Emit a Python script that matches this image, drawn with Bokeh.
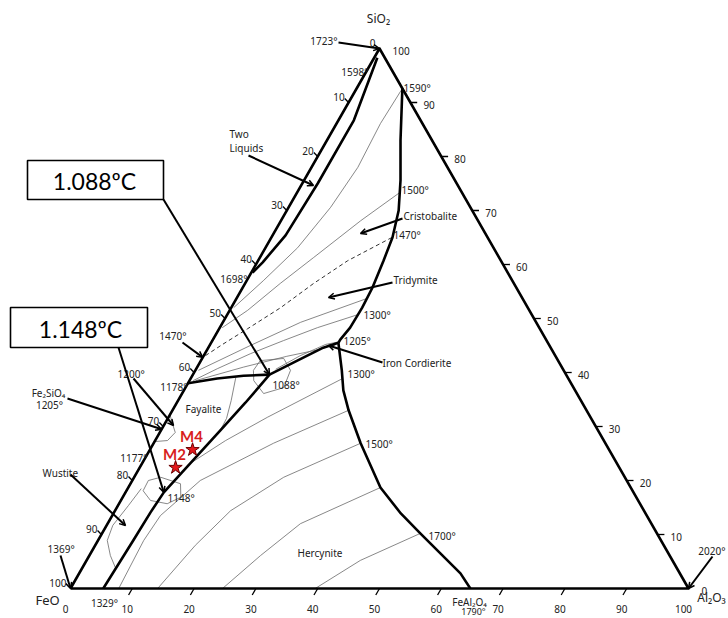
from bokeh.plotting import figure
from bokeh.models import Range1d, Arrow, OpenHead
from bokeh.core.properties import value
from bokeh.embed import file_html
from bokeh.resources import INLINE

# ---------------- data: compositions in wt% (SiO2, Al2O3), FeO = rest ----------------
triangle_sio2 = [0, 100, 0, 0]
triangle_al2o3 = [0, 0, 100, 0]

two_liquid_sio2 = [98.3, 86.7, 75.0, 65.4, 60.4, 58.5]
two_liquid_al2o3 = [0.5, 2.5, 2.5, 2.1, 0.9, 0.2]

silica_mullite_sio2 = [92.6, 83.0, 75.6, 70.0, 65.0, 60.7, 55.7, 52.0, 48.3, 46.1, 45.5]
silica_mullite_al2o3 = [7.4, 11.9, 15.6, 18.1, 19.6, 20.3, 21.0, 21.2, 21.1, 20.6, 20.6]

hercynite_mullite_sio2 = [45.5, 40.4, 36.7, 33.0, 26.9, 18.7, 13.9, 10.2, 6.5, 2.8, 0.0]
hercynite_mullite_al2o3 = [20.6, 23.7, 25.8, 28.5, 33.5, 40.8, 46.5, 51.5, 56.6, 61.7, 64.7]

cordierite_sio2 = [39.6, 42.2, 44.6, 45.5]
cordierite_al2o3 = [12.4, 15.6, 18.6, 20.6]
cordierite_inner_sio2 = [40.6, 43.1, 45.2, 45.6]
cordierite_inner_al2o3 = [12.9, 15.6, 18.7, 20.3]

fayalite_tridymite_sio2 = [38.0, 38.9, 39.4, 39.6]
fayalite_tridymite_al2o3 = [0.0, 4.3, 8.3, 12.4]

hercynite_fayalite_sio2 = [0.0, 8.9, 14.1, 17.8, 22.2, 29.3, 34.4, 39.6]
hercynite_fayalite_al2o3 = [5.3, 5.7, 5.9, 6.2, 7.5, 9.6, 11.1, 12.4]

# isotherms (thin lines)
iso_1590_sio2 = [92.6, 86.1, 78.0, 70.6, 63.1, 57.0, 52.0]
iso_1590_al2o3 = [7.4, 7.1, 7.5, 6.8, 5.2, 2.7, 0.4]
iso_1500_sio2 = [73.3, 68.1, 61.3, 56.5, 51.5, 48.3]
iso_1500_al2o3 = [16.6, 12.9, 8.7, 5.7, 2.9, 0.4]
iso_1470_sio2 = [65.0, 60.7, 56.5, 52.0, 48.1, 45.2, 42.8]
iso_1470_al2o3 = [19.5, 14.5, 11.1, 8.0, 4.6, 2.0, 0.0]
iso_1400_sio2 = [53.7, 49.3, 45.0, 40.4]
iso_1400_al2o3 = [21.1, 12.6, 6.6, 0.5]
iso_1300_sio2 = [50.7, 48.3, 45.9, 43.5, 40.7, 38.5]
iso_1300_al2o3 = [21.1, 15.8, 11.5, 7.4, 3.4, 0.6]
iso_1200_sio2 = [38.5, 41.0, 43.0, 44.2]
iso_1200_al2o3 = [1.0, 7.5, 13.5, 17.9]

herc_a_sio2 = [38.9, 31.7, 27.4, 23.3]
herc_a_al2o3 = [24.6, 16.0, 11.4, 7.9]
herc_b_sio2 = [33.0, 26.9, 20.0, 13.5, 8.9, 0.0]
herc_b_al2o3 = [28.5, 19.4, 11.0, 7.8, 7.4, 7.8]
herc_c_sio2 = [26.9, 20.6, 14.4, 8.0, 0.0]
herc_c_al2o3 = [33.5, 24.2, 18.7, 16.2, 14.1]
herc_d_sio2 = [18.7, 12.0, 6.1, 0.0]
herc_d_al2o3 = [40.8, 31.2, 27.7, 24.6]
herc_e_sio2 = [10.2, 5.2, 0.0]
herc_e_al2o3 = [51.5, 44.3, 39.6]

fay_a_sio2 = [39.1, 34.8, 31.5, 29.3]
fay_a_al2o3 = [7.2, 8.6, 9.5, 9.6]
fay_b_sio2 = [32.2, 30.7, 28.9, 27.4, 27.2]
fay_b_al2o3 = [0.0, 1.1, 2.5, 2.0, 0.0]
loop_1088_sio2 = [40.4, 42.2, 42.6, 40.4, 37.2, 36.1, 38.5, 40.4]
loop_1088_al2o3 = [9.4, 9.6, 13.2, 15.4, 15.9, 13.2, 10.4, 9.4]
loop_1148_sio2 = [18.1, 20.0, 20.6, 19.4, 16.9, 15.7, 16.3, 18.1]
loop_1148_al2o3 = [2.7, 2.6, 4.3, 8.1, 9.4, 7.8, 4.8, 2.7]
wustite_sio2 = [18.5, 15.4, 11.7, 8.9, 6.1, 3.9]
wustite_al2o3 = [2.2, 1.7, 1.0, 1.5, 3.4, 5.3]

samples = ["M2", "M4"]
sample_sio2 = [22.4, 25.7]
sample_al2o3 = [5.8, 6.9]

tick_values = [10, 20, 30, 40, 50, 60, 70, 80, 90]
label_values = [0, 10, 20, 30, 40, 50, 60, 70, 80, 90, 100]

# ---------------- helpers ----------------
K = 540 / 618


def tern(sio2, al2o3):
    xs = [a + s / 2 for s, a in zip(sio2, al2o3)]
    ys = [s * K for s in sio2]
    return xs, ys


def at(ix, iy):
    return (ix - 70) / 6.18, (588 - iy) / 6.18


W, H = 728, 618
p = figure(width=W, height=H, output_backend="svg", toolbar_location=None,
           x_axis_type=None, y_axis_type=None, min_border=0,
           x_range=Range1d(-70 / 6.18, (W - 70) / 6.18),
           y_range=Range1d(-(H - 588) / 6.18, 588 / 6.18))
p.grid.visible = False
p.outline_line_color = None
p.background_fill_color = "white"

THIN = dict(line_color="#6a6a6a", line_width=0.8)
THICK = dict(line_color="black", line_width=2.6)

for s, a in [(iso_1590_sio2, iso_1590_al2o3), (iso_1500_sio2, iso_1500_al2o3),
             (iso_1400_sio2, iso_1400_al2o3), (iso_1300_sio2, iso_1300_al2o3),
             (iso_1200_sio2, iso_1200_al2o3), (herc_a_sio2, herc_a_al2o3),
             (herc_b_sio2, herc_b_al2o3), (herc_c_sio2, herc_c_al2o3),
             (herc_d_sio2, herc_d_al2o3), (herc_e_sio2, herc_e_al2o3),
             (fay_a_sio2, fay_a_al2o3), (fay_b_sio2, fay_b_al2o3),
             (loop_1088_sio2, loop_1088_al2o3), (loop_1148_sio2, loop_1148_al2o3),
             (wustite_sio2, wustite_al2o3), (cordierite_inner_sio2, cordierite_inner_al2o3)]:
    x, y = tern(s, a)
    p.line(x, y, **THIN)

x, y = tern(iso_1470_sio2, iso_1470_al2o3)
p.line(x, y, line_color="#333333", line_width=1.0, line_dash="4 3")

for s, a in [(triangle_sio2, triangle_al2o3), (two_liquid_sio2, two_liquid_al2o3),
             (silica_mullite_sio2, silica_mullite_al2o3),
             (hercynite_mullite_sio2, hercynite_mullite_al2o3),
             (cordierite_sio2, cordierite_al2o3),
             (fayalite_tridymite_sio2, fayalite_tridymite_al2o3),
             (hercynite_fayalite_sio2, hercynite_fayalite_al2o3)]:
    x, y = tern(s, a)
    p.line(x, y, line_join="round", **THICK)

# ---------------- axis ticks and labels ----------------
lx0, ly0 = tern(tick_values, [0] * 9)
lx1, ly1 = tern([t + 0.75 for t in tick_values], [-1.0] * 9)
p.segment(lx0, ly0, lx1, ly1, line_color="black", line_width=1.3)
rx0, ry0 = tern(tick_values, [100 - t for t in tick_values])
rx1, ry1 = tern(tick_values, [101.1 - t for t in tick_values])
p.segment(rx0, ry0, rx1, ry1, line_color="black", line_width=1.3)
bx0, by0 = tern([0] * 9, tick_values)
bx1, by1 = tern([-1.2] * 9, tick_values)
p.segment(bx0, by0, bx1, by1, line_color="black", line_width=1.3)

FONT = value("Noto Sans")
SMALL = "10px"
TXT = "#222222"

x, y = tern(label_values, [0] * 11)
p.text(x, y, text=[str(100 - v) for v in label_values], text_font=FONT, text_font_size=SMALL,
       text_align="right", text_baseline="middle", x_offset=-4, y_offset=-6, text_color=TXT)
x, y = tern(label_values, [100 - v for v in label_values])
p.text(x, y, text=[str(v) for v in label_values], text_font=FONT, text_font_size=SMALL,
       text_align="left", text_baseline="middle", x_offset=13, y_offset=2, text_color=TXT)
x, y = tern([0] * 11, label_values)
p.text(x, y, text=[str(v) for v in label_values], text_font=FONT, text_font_size=SMALL,
       text_align="center", text_baseline="middle", x_offset=-5, y_offset=20, text_color=TXT)

# ---------------- annotations ----------------
left_labels = [("1590°", 403, 87), ("1500°", 401, 189), ("Cristobalite", 403, 215),
               ("1470°", 393, 234), ("Tridymite", 393, 279), ("1300°", 363, 314),
               ("1205°", 343, 340), ("Iron Cordierite", 382, 362), ("1300°", 347, 373),
               ("1088°", 272, 384), ("1200°", 117, 373), ("Fayalite", 185, 408),
               ("1500°", 365, 443), ("1148°", 167, 497), ("1700°", 428, 535),
               ("Hercynite", 297, 552), ("Two", 229, 133), ("Liquids", 229, 147),
               ("Wustite", 42, 472), ("1369°", 47, 548)]
right_labels = [("1723°", 337, 40), ("1598°", 368, 71), ("1698°", 247, 278),
                ("1470°", 186, 335), ("1178°", 187, 386), ("1177°", 147, 457),
                ("2020°", 725, 550)]
center_labels = [("Fe₂SiO₄", 48, 392), ("1205°", 49, 404), ("FeAl₂O₄", 469, 601),
                 ("1329°", 104, 602)]

for labels, align in [(left_labels, "left"), (right_labels, "right"), (center_labels, "center")]:
    pts = [at(ix, iy) for _, ix, iy in labels]
    p.text([q[0] for q in pts], [q[1] for q in pts], text=[t for t, _, _ in labels],
           text_font=FONT, text_font_size=SMALL, text_align=align, text_baseline="middle",
           text_color=TXT)

q = at(473, 611)
p.text([q[0]], [q[1]], text=["1790°"], text_font=FONT, text_font_size="9px",
       text_align="center", text_baseline="middle", text_color=TXT)

for t, ix, iy, size in [("SiO₂", 378, 18, "12px"), ("FeO", 47, 599, "13px"), ("Al₂O₃", 711, 597, "12px")]:
    q = at(ix, iy)
    p.text([q[0]], [q[1]], text=[t], text_font=FONT, text_font_size=size,
           text_align="center", text_baseline="middle", text_color=TXT)

# boxes
for (l, t, r, b), label, (cx, cy) in [((27, 160, 163, 199), "1.088ºC", (94, 180)),
                                      ((10, 307, 147, 347), "1.148ºC", (80, 328))]:
    x0, y0 = at(l, b)
    x1, y1 = at(r, t)
    p.quad(left=x0, right=x1, bottom=y0, top=y1, fill_color="white",
           line_color="black", line_width=1.6)
    q = at(cx, cy)
    p.text([q[0]], [q[1]], text=[label], text_font=value("Lato"), text_font_size="23px",
           text_align="center", text_baseline="middle", text_color="black")

# arrows
P1088 = tern([39.6], [12.4])
P1148 = tern([17.8], [6.2])
arrows = [
    (at(163, 199), (P1088[0][0], P1088[1][0])),
    (at(118, 347), (P1148[0][0], P1148[1][0])),
    (at(338, 42), tern([100], [0])),
    (at(712, 556), tern([0], [100])),
    (at(60, 555), tern([0], [0])),
    (at(70, 474), at(125, 525)),
    (at(67, 398), tern([29.5], [0])),
    (at(133, 378), at(173, 425)),
    (at(182, 342), tern([42.8], [0])),
    (at(248, 155), at(313, 185)),
    (at(402, 218), at(360, 233)),
    (at(392, 282), at(328, 297)),
    (at(382, 362), at(328, 345)),
]
for (xs, ys), (xe, ye) in arrows:
    if isinstance(xe, list):
        xe, ye = xe[0], ye[0]
    p.add_layout(Arrow(end=OpenHead(size=6, line_width=1.5, line_color="black"),
                       x_start=xs, y_start=ys, x_end=xe, y_end=ye,
                       line_color="black", line_width=2))

# samples
sx, sy = tern(sample_sio2, sample_al2o3)
p.scatter(sx, sy, marker="star", size=14, fill_color="#e3191c", line_color="#6b0000", line_width=1)
p.text(sx, sy, text=samples, text_font=value("Lato"), text_font_style="bold",
       text_font_size="15px", text_color="#d81e1e", text_align="center",
       text_baseline="middle", y_offset=-14, x_offset=-1)

open("out.html", "w").write(file_html(p, INLINE))
